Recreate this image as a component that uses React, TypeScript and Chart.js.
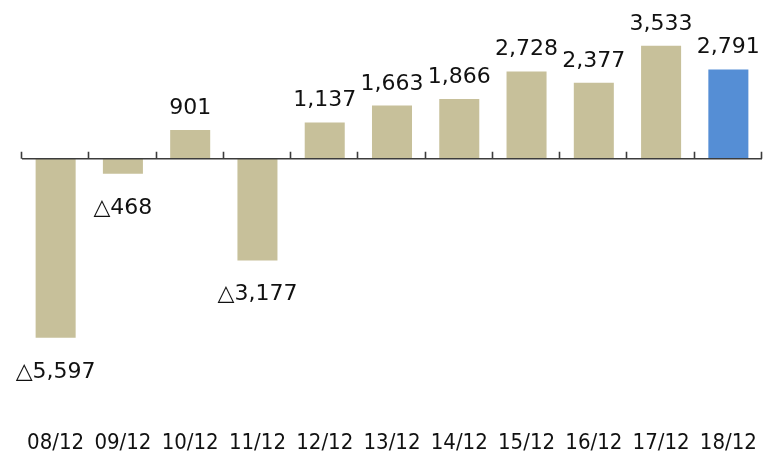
import React, { useEffect, useRef } from "react";
import { Chart, registerables } from "chart.js";

Chart.register(...registerables);

const categories = ["08/12", "09/12", "10/12", "11/12", "12/12", "13/12", "14/12", "15/12", "16/12", "17/12", "18/12"];
const values = [-5597, -468, 901, -3177, 1137, 1663, 1866, 2728, 2377, 3533, 2791];
const highlightIndex = 10;

const TAN = "#C7C09A";
const BLUE = "#558ED5";
const TEXT = "#111111";
const AXIS = "#3c3c3c";

function fmt(v: number): string {
  const s = Math.abs(v).toLocaleString("en-US");
  return v < 0 ? "\u25B3" + s : s;
}

const labelPlugin = {
  id: "valueLabels",
  afterDatasetsDraw(chart: any) {
    const ctx = chart.ctx;
    const meta = chart.getDatasetMeta(0);
    const xs = chart.scales.x;
    const ys = chart.scales.y;
    const zero = ys.getPixelForValue(0);
    ctx.save();
    ctx.strokeStyle = AXIS;
    ctx.lineWidth = 1.6;
    ctx.beginPath();
    ctx.moveTo(xs.left, zero);
    ctx.lineTo(xs.right, zero);
    const n = categories.length;
    for (let i = 0; i <= n; i++) {
      const x = Math.round(xs.left + (i * (xs.right - xs.left)) / n) - 0.5;
      ctx.moveTo(x, zero);
      ctx.lineTo(x, zero - 7);
    }
    ctx.stroke();
    ctx.restore();

    ctx.save();
    ctx.font = "22px 'DejaVu Sans'";
    ctx.fillStyle = TEXT;
    ctx.textAlign = "center";
    ctx.textBaseline = "alphabetic";
    meta.data.forEach((bar: any, i: number) => {
      const v = values[i];
      const y = v >= 0 ? bar.y - 16 : bar.y + 40;
      ctx.fillText(fmt(v), bar.x, y);
    });
    ctx.restore();
  },
};

export default function App() {
  const ref = useRef<HTMLCanvasElement | null>(null);
  useEffect(() => {
    if (!ref.current) return;
    const chart = new Chart(ref.current, {
      type: "bar",
      data: {
        labels: categories,
        datasets: [
          {
            data: values,
            backgroundColor: values.map((_, i) => (i === highlightIndex ? BLUE : TAN)),
            borderWidth: 0,
            barPercentage: 0.595,
            categoryPercentage: 1,
          },
        ],
      },
      options: {
        responsive: false,
        animation: false,
        devicePixelRatio: 1,
        layout: { padding: { left: 22, right: 1, top: 0, bottom: 0 } },
        plugins: { legend: { display: false }, tooltip: { enabled: false } },
        scales: {
          x: {
            grid: { display: false, drawTicks: false },
            border: { display: false },
            ticks: {
              color: TEXT,
              padding: 0,
              maxRotation: 0,
              autoSkip: false,
              font: { family: "'DejaVu Sans Condensed'", size: 22, lineHeight: 1 },
            },
          },
          y: {
            display: false,
            min: -8540,
            max: 4962,
          },
        },
      },
      plugins: [labelPlugin],
    });
    return () => chart.destroy();
  }, []);
  return (
    <div style={{ position: "absolute", left: 0, top: 0, width: 763, height: 454, background: "#fff" }}>
      <canvas ref={ref} width={763} height={454} />
    </div>
  );
}
